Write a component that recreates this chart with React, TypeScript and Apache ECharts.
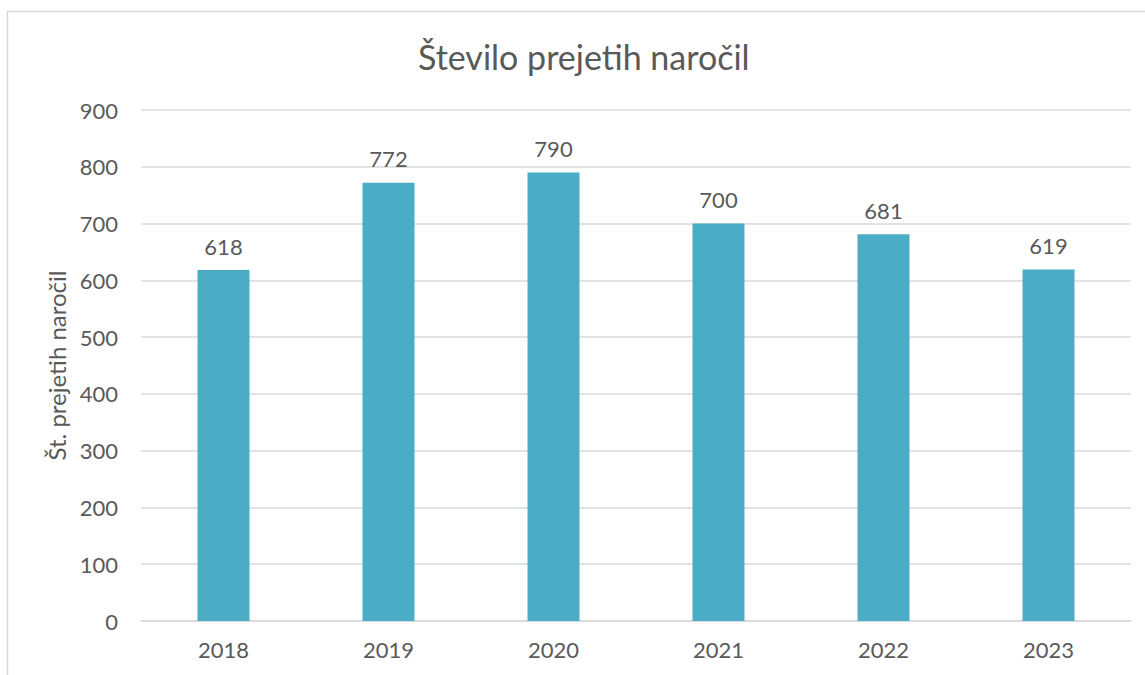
import React, { useEffect, useRef } from "react";
import * as echarts from "echarts";

const categories = ["2018", "2019", "2020", "2021", "2022", "2023"];
const values = [618, 772, 790, 700, 681, 619];
const titleText = "Število prejetih naročil";
const yAxisName = "Št. prejetih naročil";

const FONT = "Lato, 'Open Sans', sans-serif";
const TEXT = "#595959";

export default function App() {
  const ref = useRef<HTMLDivElement>(null);
  useEffect(() => {
    document.body.style.margin = "0";
    const chart = echarts.init(ref.current!, null, { renderer: "svg" });
    chart.setOption({
      animation: false,
      backgroundColor: "#ffffff",
      textStyle: { fontFamily: FONT },
      title: {
        text: titleText,
        left: 413,
        top: 34,
        textStyle: { fontFamily: FONT, fontSize: 34, fontWeight: "normal", color: TEXT },
      },
      graphic: [
        {
          type: "rect",
          shape: { x: 7.5, y: 11.5, width: 1200, height: 800 },
          style: { fill: "none", stroke: "#d9d9d9", lineWidth: 1.5 },
          silent: true,
        },
      ],
      grid: { left: 141, right: 14, top: 110, bottom: 54 },
      xAxis: {
        type: "category",
        data: categories,
        axisLine: { show: true, lineStyle: { color: "#d9d9d9", width: 1.5 } },
        axisTick: { show: false },
        axisLabel: { color: TEXT, fontSize: 22, fontFamily: FONT, margin: 17 },
      },
      yAxis: {
        type: "value",
        min: 0,
        max: 900,
        interval: 100,
        name: yAxisName,
        nameLocation: "middle",
        nameGap: 68,
        nameRotate: 90,
        nameTextStyle: { color: TEXT, fontSize: 24, fontFamily: FONT },
        axisLine: { show: false },
        axisTick: { show: false },
        axisLabel: { color: TEXT, fontSize: 22, fontFamily: FONT, margin: 23 },
        splitLine: { lineStyle: { color: "#d9d9d9", width: 1.5 } },
      },
      series: [
        {
          type: "bar",
          data: values,
          barWidth: "31.5%",
          itemStyle: { color: "#4BACC6" },
          label: {
            show: true,
            position: "top",
            distance: 13,
            color: TEXT,
            fontSize: 22,
            fontFamily: FONT,
          },
        },
      ],
    });
    return () => chart.dispose();
  }, []);
  return <div ref={ref} style={{ width: 1145, height: 675 }} />;
}
